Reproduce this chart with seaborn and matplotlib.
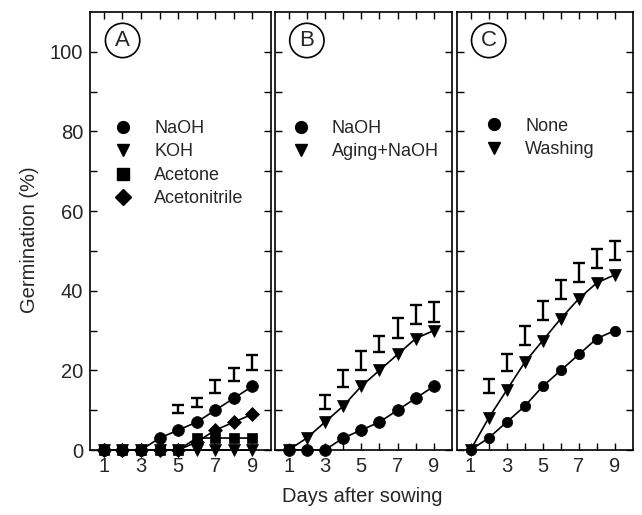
import matplotlib
matplotlib.use("Agg")
import matplotlib.pyplot as plt
import seaborn as sns
import numpy as np
from matplotlib.lines import Line2D

days = [1, 2, 3, 4, 5, 6, 7, 8, 9]

# Panel A
a_naoh = [0, 0, 0, 3, 5, 7, 10, 13, 16]
a_koh = [0, 0, 0, 0, 0, 0, 0, 0, 0]
a_acetone = [0, 0, 0, 0, 0, 3, 3, 3, 3]
a_acetonitrile = [0, 0, 0, 0, 0, 2, 5, 7, 9]
a_err_days = [5, 6, 7, 8, 9]
a_err_mid = [10.3, 12, 16, 19, 22]
a_err_half = [1.1, 1.1, 1.6, 1.6, 1.8]

# Panel B
b_naoh = [0, 0, 0, 3, 5, 7, 10, 13, 16]
b_aging = [0, 3, 7, 11, 16, 20, 24, 28, 30]
b_err_days = [3, 4, 5, 6, 7, 8, 9]
b_err_mid = [12, 18, 22.5, 26.6, 30.6, 34, 34.6]
b_err_half = [1.7, 2.1, 2.3, 2.1, 2.5, 2.4, 2.5]

# Panel C
c_none = [0, 3, 7, 11, 16, 20, 24, 28, 30]
c_washing = [0, 8, 15, 22, 27.5, 33, 38, 42, 44]
c_err_days = [2, 3, 4, 5, 6, 7, 8, 9]
c_err_mid = [16, 22, 28.7, 35, 40.2, 44.5, 48, 50]
c_err_half = [1.8, 2.2, 2.4, 2.4, 2.4, 2.4, 2.4, 2.4]

xlabels = ["1", "3", "5", "7", "9"]

sns.set_theme(style="ticks")
plt.rcParams['font.family'] = ['Liberation Sans', 'DejaVu Sans']

fig = plt.figure(figsize=(6.42, 5.15), dpi=100)
W, H = 642, 515
bottom_px, top_px = 450, 12
frames = [(90, 181), (275, 177), (457, 176)]
axes = []
for lp, wp in frames:
    ax = fig.add_axes([lp / W, 1 - bottom_px / H, wp / W, (bottom_px - top_px) / H])
    axes.append(ax)

ms = 8.5
def series(ax, y, marker, size=ms):
    sns.lineplot(x=days, y=y, ax=ax, color='black', linewidth=1.2,
                 marker=marker, markersize=size, markeredgecolor='black',
                 markerfacecolor='black', markeredgewidth=0.5, legend=False)
    ax.lines[-1].set_clip_on(False)
    ax.lines[-1].set_zorder(3)

def errs(ax, d, m, h):
    ax.errorbar(d, m, yerr=h, fmt='none', ecolor='black', elinewidth=1.7,
                capsize=4, capthick=1.7)

axA, axB, axC = axes
series(axA, a_koh, 'v')
series(axA, a_acetone, 's', 7.5)
series(axA, a_acetonitrile, 'D', 7)
series(axA, a_naoh, 'o')
errs(axA, a_err_days, a_err_mid, a_err_half)

series(axB, b_aging, 'v')
series(axB, b_naoh, 'o')
errs(axB, b_err_days, b_err_mid, b_err_half)

series(axC, c_washing, 'v')
series(axC, c_none, 'o', 7.5)
errs(axC, c_err_days, c_err_mid, c_err_half)

for i, ax in enumerate(axes):
    ax.set_xlim(0.25, 10.0)
    ax.set_ylim(0, 110)
    ax.set_xticks([1, 3, 5, 7, 9])
    ax.set_xticklabels(xlabels)
    ax.set_xticks([2, 4, 6, 8], minor=True)
    ax.set_yticks([0, 20, 40, 60, 80, 100])
    ax.set_yticks([10, 30, 50, 70, 90], minor=True)
    ax.tick_params(which='both', direction='in', top=True, right=True,
                   length=5, width=1.0, labelsize=14.5, color='black', pad=5)
    for s in ax.spines.values():
        s.set_linewidth(1.2)
        s.set_color('black')
    ax.set_xlabel('')
    ax.set_ylabel('')
    if i > 0:
        ax.set_yticklabels([])
    ax.set_facecolor('white')

for ax, letter in zip(axes, ['A', 'B', 'C']):
    ax.text(0.18, 0.935, letter, transform=ax.transAxes, ha='center', va='center',
            fontsize=16, bbox=dict(boxstyle='circle,pad=0.3', fc='white', ec='black', lw=1.2))

def leg(ax, labels, markers, x, y):
    handles = [Line2D([], [], linestyle='none', marker=m, color='black', markersize=ms)
               for m in markers]
    ax.legend(handles, labels, loc='upper left', bbox_to_anchor=(x, y), frameon=False,
              fontsize=13, handletextpad=1.2, labelspacing=0.36, borderaxespad=0,
              handlelength=1.0)

leg(axA, ['NaOH', 'KOH', 'Acetone', 'Acetonitrile'], ['o', 'v', 's', 'D'], 0.095, 0.77)
leg(axB, ['NaOH', 'Aging+NaOH'], ['o', 'v'], 0.055, 0.77)
leg(axC, ['None', 'Washing'], ['o', 'v'], 0.12, 0.775)

fig.text(30 / W, 1 - 240 / H, 'Germination (%)', rotation=90, ha='center', va='center', fontsize=14.5)
fig.text(362 / W, 1 - 497 / H, 'Days after sowing', ha='center', va='center', fontsize=14.5)

fig.savefig('out.png', dpi=100, facecolor='white')
